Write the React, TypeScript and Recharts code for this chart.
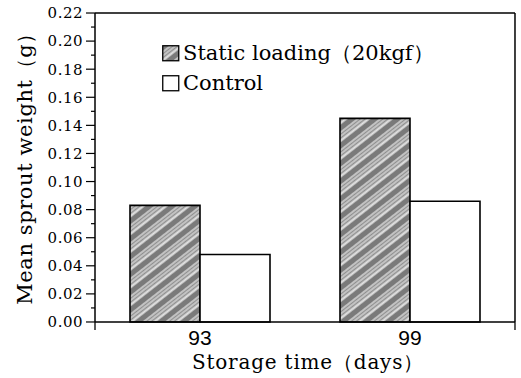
import React from 'react';
import { BarChart, Bar, XAxis, YAxis, Legend, Label } from 'recharts';

const categories = ['93', '99'];
const staticLoading = [0.083, 0.145];
const control = [0.048, 0.086];
const seriesNames = ['Static loading（20kgf）', 'Control'];
const yTicks = [0, 0.01, 0.02, 0.03, 0.04, 0.05, 0.06, 0.07, 0.08, 0.09, 0.1, 0.11, 0.12, 0.13, 0.14, 0.15, 0.16, 0.17, 0.18, 0.19, 0.2, 0.21, 0.22];
const boundaryTicks = [0, 1, 2];
const xTitle = 'Storage time（days）';
const yTitle = 'Mean sprout weight（g）';

const data = categories.map((d, i) => ({ day: d, s: staticLoading[i], c: control[i] }));

const SERIF = '"DejaVu Serif", serif';
const TINY = 0.01;

const YTick = (props: any) => {
  const { x, y, payload } = props;
  const v = payload.value as number;
  const major = Math.round(v * 100) % 2 === 0;
  return (
    <g>
      <line x1={x - (major ? 9 : 4)} x2={x} y1={y} y2={y} stroke="#000" strokeWidth={1.2} />
      {major && (
        <text x={x - 12} y={y} dy="0.36em" textAnchor="end" fontFamily={SERIF} fontSize={15} letterSpacing={0.5} fill="#000">
          {v.toFixed(2)}
        </text>
      )}
    </g>
  );
};

const LegendContent = () => {
  const rows = [
    { name: seriesNames[0], fill: 'url(#hatch)' },
    { name: seriesNames[1], fill: '#fff' },
  ];
  return (
    <div>
      {rows.map((r) => (
        <div key={r.name} style={{ display: 'flex', alignItems: 'center', height: 30, lineHeight: '30px', fontFamily: SERIF, fontSize: 21, color: '#000', whiteSpace: 'nowrap' }}>
          <svg width={18} height={17} style={{ marginRight: 3 }}>
            <rect x={0.75} y={0.75} width={16} height={15} fill={r.fill} stroke="#000" strokeWidth={1.3} />
          </svg>
          <span>{r.name}</span>
        </div>
      ))}
    </div>
  );
};

export default function App() {
  return (
    <div style={{ position: 'absolute', left: 0, top: 0, background: '#fff' }}>
      <BarChart width={521} height={378} data={data} margin={{ top: 13, right: 6, bottom: 56, left: 0 }} barCategoryGap={35} barGap={0}>
        <defs>
          <pattern id="hatch" patternUnits="userSpaceOnUse" width="14" height="14" patternTransform="rotate(-38)">
            <rect width="14" height="14" fill="#c2c2c2" />
            <rect y="0" width="14" height="5" fill="#7a7a7a" />
            <rect y="7" width="14" height="1" fill="#8f8f8f" />
            <rect y="10" width="14" height="1" fill="#8f8f8f" />
            <rect y="12" width="14" height="1" fill="#e4e4e4" />
          </pattern>
        </defs>
        <XAxis xAxisId="top" orientation="top" type="number" domain={[0, 1]} height={TINY} tick={false} tickLine={false} axisLine={{ stroke: '#000', strokeWidth: 1.5 }} />
        <XAxis xAxisId="bnd" type="number" domain={[0, 2]} ticks={boundaryTicks} allowDataOverflow height={TINY} tickSize={8} tickFormatter={() => ''} tickLine={{ stroke: '#000', strokeWidth: 1.3 }} axisLine={{ stroke: '#000', strokeWidth: 1.5 }} />
        <XAxis dataKey="day" height={TINY} tickSize={0} tickMargin={8} tickLine={false} axisLine={false} tick={{ fontFamily: '"Liberation Sans Narrow", "Liberation Sans", sans-serif', fontSize: 21, fill: '#000' }}>
          <Label value={xTitle} position="bottom" offset={33} dx={3} fontFamily={SERIF} fontSize={20} letterSpacing={0.8} fill="#000" />
        </XAxis>
        <YAxis domain={[0, 0.22]} ticks={yTicks} width={95} tickSize={0} tickMargin={0} interval={0} tickLine={false} tick={<YTick />} axisLine={{ stroke: '#000', strokeWidth: 1.5 }}>
          <Label value={yTitle} angle={-90} position="center" dx={-23} dy={-4} fontFamily={SERIF} fontSize={21} letterSpacing={0.6} fill="#000" />
        </YAxis>
        <YAxis yAxisId="right" orientation="right" domain={[0, 1]} width={TINY} tick={false} tickLine={false} axisLine={{ stroke: '#000', strokeWidth: 1.5 }} />
        <Legend layout="vertical" align="center" verticalAlign="middle" content={<LegendContent />} wrapperStyle={{ left: 162, top: 38, width: 'auto', height: 'auto' }} />
        <Bar dataKey="s" name={seriesNames[0]} fill="url(#hatch)" stroke="#000" strokeWidth={1.6} isAnimationActive={false} />
        <Bar dataKey="c" name={seriesNames[1]} fill="#fff" stroke="#000" strokeWidth={1.6} isAnimationActive={false} />
      </BarChart>
    </div>
  );
}
